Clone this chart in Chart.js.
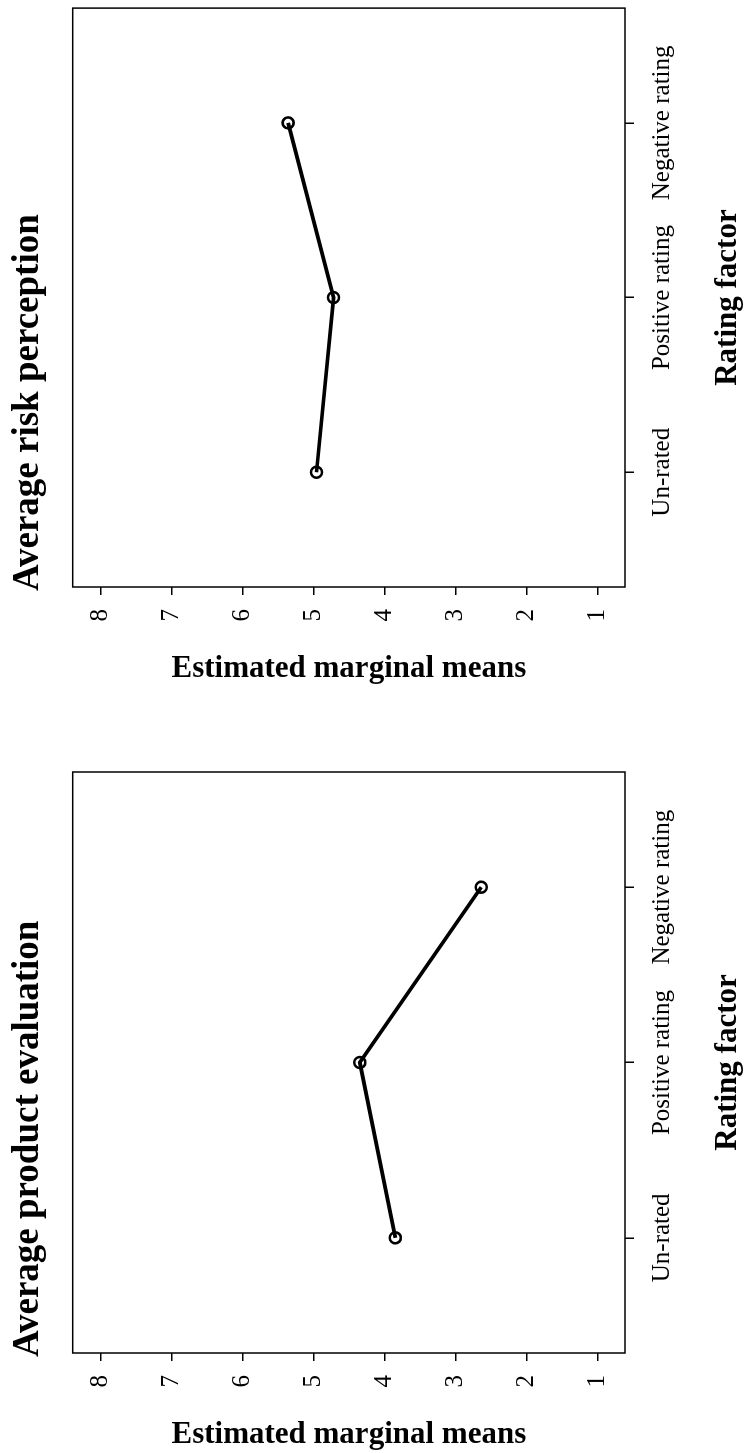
<!DOCTYPE html>
<html>
<head>
<meta charset="utf-8">
<script src="https://cdn.jsdelivr.net/npm/chart.js@4.4.1/dist/chart.umd.min.js"></script>
<style>
  html, body { margin: 0; padding: 0; background: #fff; overflow: hidden; }
  /* the figure is laid out landscape and turned a quarter turn to the left */
  #stage { position: absolute; left: 0; top: 0; width: 1453px; height: 747px;
           transform-origin: 0 0; transform: translateY(1453px) rotate(-90deg); }
  #stage canvas { position: absolute; top: 0; }
  #productChart { left: 0; }
  #riskChart { left: 726px; }
</style>
</head>
<body>
<div id="stage">
  <canvas id="productChart" width="726" height="747"></canvas>
  <canvas id="riskChart" width="727" height="747"></canvas>
</div>
<script>
const categories = ['Un-rated', 'Positive rating', 'Negative rating'];
const productEvaluation = [3.85, 4.35, 2.64];
const riskPerception = [4.96, 4.72, 5.36];
const meanTicks = [1, 2, 3, 4, 5, 6, 7, 8];

const serif = 'Liberation Serif';

// box round the plot, left-aligned title, and the y title reading top to bottom
const panelText = {
    id: 'panelText',
    afterDraw(chart, args, opts) {
        const { ctx, chartArea: a } = chart;
        ctx.save();
        ctx.strokeStyle = '#000';
        ctx.lineWidth = 1.5;
        ctx.strokeRect(a.left, a.top, a.right - a.left, a.bottom - a.top);

        ctx.fillStyle = '#000';
        ctx.font = 'bold 37px "' + serif + '"';
        ctx.textAlign = 'left';
        ctx.textBaseline = 'alphabetic';
        ctx.fillText(opts.title, a.left - 4, 38);

        ctx.translate(a.left - 90, (a.top + a.bottom) / 2);
        ctx.rotate(Math.PI / 2);
        ctx.font = 'bold 31px "' + serif + '"';
        ctx.textAlign = 'center';
        ctx.fillText(opts.yTitle, 0, 0);
        ctx.restore();
    }
};

function makeChart(id, title, values, axisWidth, rightPad) {
    return new Chart(document.getElementById(id), {
        type: 'line',
        data: {
            datasets: [{
                data: values.map((v, i) => ({ x: i + 1, y: v })),
                borderColor: '#000',
                borderWidth: 3.7,
                tension: 0,
                pointRadius: 5.5,
                pointHoverRadius: 5.5,
                pointBorderWidth: 2.6,
                pointBorderColor: '#000',
                pointBackgroundColor: 'rgba(0,0,0,0)'
            }]
        },
        options: {
            responsive: false,
            animation: false,
            events: [],
            layout: { padding: { top: 72.7, right: rightPad, bottom: 0, left: 0 } },
            plugins: {
                legend: { display: false },
                tooltip: { enabled: false },
                panelText: { title: title, yTitle: 'Estimated marginal means' }
            },
            scales: {
                x: {
                    type: 'linear',
                    min: 0.343,
                    max: 3.657,
                    afterBuildTicks: s => { s.ticks = categories.map((c, i) => ({ value: i + 1 })); },
                    afterFit: s => { s.height = 122; },
                    grid: { drawOnChartArea: false, tickLength: 9, color: '#000', lineWidth: 1.5 },
                    border: { display: false },
                    ticks: {
                        color: '#000',
                        padding: 13,
                        maxRotation: 0,
                        autoSkip: false,
                        font: { family: serif, size: 25 },
                        callback: v => categories[v - 1]
                    },
                    title: {
                        display: true,
                        text: 'Rating factor',
                        color: '#000',
                        font: { family: serif, size: 31, weight: 'bold' },
                        padding: { top: 0, bottom: 0 }
                    }
                },
                y: {
                    type: 'linear',
                    min: 0.615,
                    max: 8.394,
                    afterBuildTicks: s => { s.ticks = meanTicks.map(v => ({ value: v })); },
                    afterFit: s => { s.width = axisWidth; },
                    grid: { drawOnChartArea: false, tickLength: 8, color: '#000', lineWidth: 1.5 },
                    border: { display: false },
                    ticks: {
                        color: '#000',
                        padding: 14,
                        font: { family: serif, size: 25 }
                    }
                }
            }
        },
        plugins: [panelText]
    });
}

makeChart('productChart', 'Average product evaluation', productEvaluation, 100, 45);
makeChart('riskChart', 'Average risk perception', riskPerception, 140, 6.7);
</script>
</body>
</html>
